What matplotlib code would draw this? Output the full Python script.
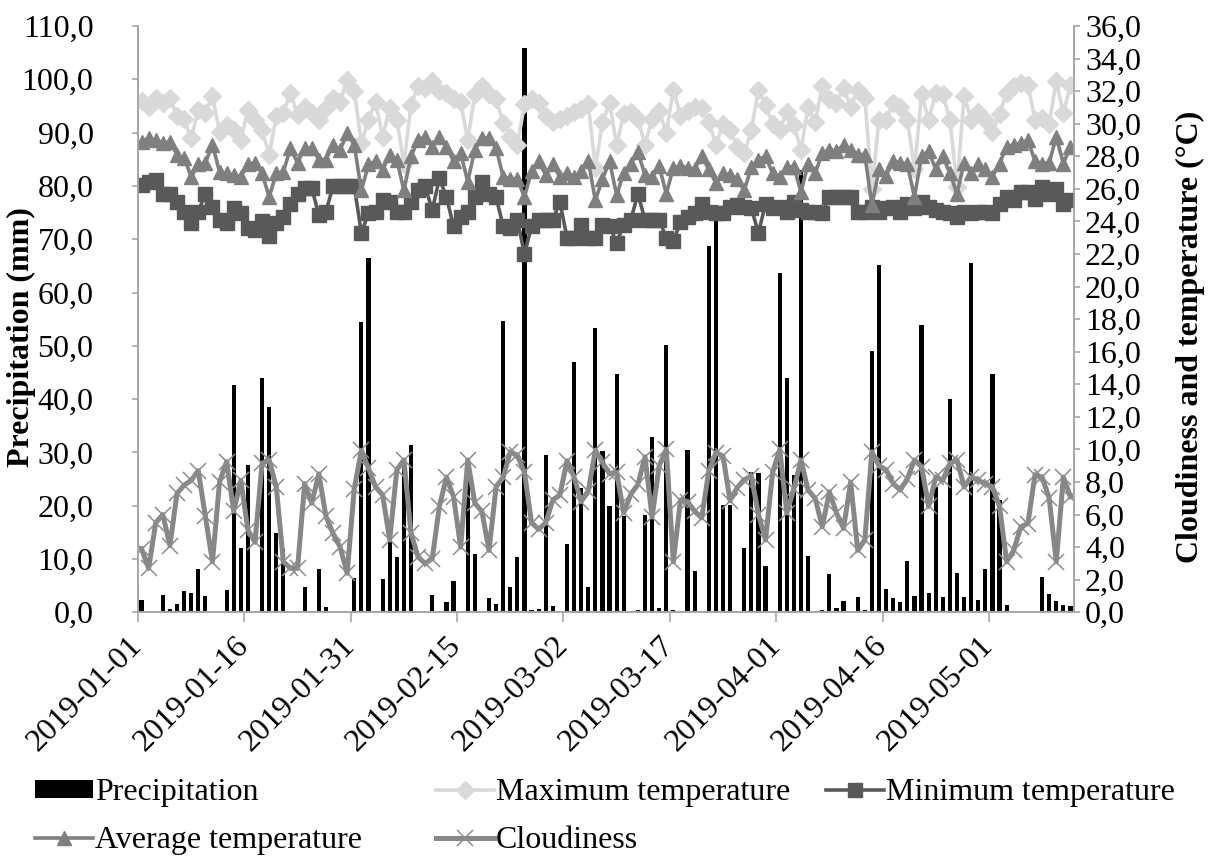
import matplotlib
matplotlib.use("Agg")
import matplotlib.pyplot as plt
import numpy as np

plt.rcParams['font.family'] = ['Liberation Serif', 'DejaVu Serif']

# ---------------- data (day index 0 = 2019-01-01, 132 days) ----------------
n_days = 132
precip_days = [0, 3, 4, 5, 6, 7, 8, 9, 12, 13, 14, 15, 17, 18, 19, 20, 23, 25, 26,
               30, 31, 32, 34, 35, 36, 37, 38, 41, 43, 44, 46, 47, 49, 50, 51, 52, 53,
               54, 55, 56, 57, 58, 60, 61, 62, 63, 64, 65, 66, 67, 68, 70, 71, 72, 73,
               74, 75, 77, 78, 80, 81, 82, 83, 85, 86, 87, 88, 90, 91, 92, 93, 94, 96,
               97, 98, 99, 101, 102, 103, 104, 105, 106, 107, 108, 109, 110, 111, 112,
               113, 114, 115, 116, 117, 118, 119, 120, 121, 122, 127, 128, 129, 130, 131]
precip_vals = [2.3, 3.2, 0.6, 1.5, 4.0, 3.7, 8.2, 3.1, 4.1, 42.6, 12.0, 27.6, 44.0, 38.6,
               14.9, 11.9, 4.8, 8.1, 1.0,
               6.5, 54.5, 66.5, 6.2, 13.6, 10.4, 27.5, 31.3, 3.3, 2.0, 5.9, 28.0, 10.9,
               2.6, 1.6, 54.7, 4.8, 10.4,
               105.8, 0.35, 0.6, 29.5, 1.2, 12.8, 46.9, 23.3, 4.8, 53.3, 30.3, 19.9, 44.7,
               18.1, 0.5, 18.3, 32.8, 0.8,
               50.2, 0.5, 30.5, 7.8, 68.8, 76.5, 20.1, 20.1, 12.1, 26.4, 26.2, 8.6, 63.7,
               43.9, 25.8, 83.0, 10.6, 0.4,
               7.1, 0.9, 2.1, 2.9, 0.4, 49.1, 65.2, 4.4, 2.6, 2.0, 9.7, 3.1, 53.9, 3.7,
               23.6, 2.8, 40.1, 7.3, 2.8, 65.6, 2.4, 8.1, 44.7, 21.1, 1.4, 6.7, 3.4, 2.2,
               1.3, 1.2]

max_temp = [31.4, 31.05, 31.6, 31.3, 31.6, 30.45, 30.3, 29.1, 30.85, 30.65,
            31.7, 29.5, 29.9, 29.6, 29.0, 30.85, 30.25, 29.6, 28.1, 30.45,
            30.65, 31.9, 30.55, 31.05, 30.65, 30.25, 30.95, 31.6, 31.35, 32.7,
            32.0, 28.8, 30.25, 31.35, 29.2, 30.95, 30.25, 27.5, 31.15, 32.3,
            32.2, 32.6, 32.0, 31.9, 31.5, 31.35, 29.0, 31.8, 32.3, 31.8,
            31.5, 30.05, 29.2, 28.7, 31.2, 31.5, 31.3, 30.5, 30.1, 30.3,
            30.5, 30.7, 30.9, 31.2, 27.3, 30.1, 31.3, 28.7, 30.6, 30.7,
            30.3, 28.7, 30.3, 30.8, 29.4, 32.1, 30.5, 30.8, 31.05, 30.95,
            30.1, 28.7, 30.0, 29.6, 28.6, 28.2, 29.6, 32.1, 31.15, 30.0,
            29.6, 30.75, 29.9, 28.4, 31.05, 30.1, 32.3, 31.5, 31.3, 32.2,
            31.05, 32.1, 31.6, 26.0, 30.25, 30.25, 31.25, 31.0, 30.25, 27.2,
            31.8, 30.25, 31.9, 31.8, 30.25, 26.1, 31.7, 30.25, 30.75, 30.25,
            29.5, 30.6, 31.9, 32.3, 32.5, 32.4, 30.25, 30.35, 30.0, 32.6,
            30.65, 32.4]

min_temp = [26.25, 26.4, 26.55, 25.7, 25.7, 25.2, 24.6, 23.9, 24.6, 25.7,
            24.9, 24.1, 23.9, 24.8, 24.5, 23.6, 23.5, 24.0, 23.1, 23.9,
            24.3, 25.1, 25.7, 26.05, 26.05, 24.4, 24.6, 26.15, 26.15, 26.15,
            26.15, 23.3, 24.5, 24.6, 25.3, 25.2, 24.6, 24.6, 25.2, 25.9,
            26.15, 24.7, 26.65, 25.5, 23.7, 24.3, 24.6, 25.5, 26.45, 25.7,
            25.5, 23.7, 23.6, 24.1, 22.0, 23.7, 24.1, 24.1, 24.1, 25.2,
            23.0, 23.0, 23.8, 23.0, 23.0, 23.8, 23.7, 22.7, 23.8, 24.1,
            25.7, 24.1, 24.1, 24.1, 23.0, 22.8, 23.95, 24.3, 24.5, 25.1,
            24.6, 24.5, 24.5, 24.9, 25.0, 24.9, 24.8, 23.3, 25.1, 24.8,
            24.9, 24.6, 25.2, 24.7, 24.6, 24.6, 24.5, 25.5, 25.5, 25.5,
            25.5, 24.6, 24.6, 24.9, 24.6, 24.8, 24.9, 24.6, 25.1, 24.8,
            25.2, 24.9, 24.7, 24.6, 24.5, 24.3, 24.6, 24.5, 24.6, 24.6,
            24.5, 25.1, 25.5, 25.3, 25.8, 25.8, 25.4, 26.1, 25.7, 26.0,
            25.1, 25.3]

avg_temp = [28.9, 29.1, 29.0, 28.8, 28.9, 28.1, 27.9, 26.75, 27.5, 27.6,
            28.7, 27.05, 26.95, 26.85, 26.75, 27.5, 27.6, 26.95, 25.5, 26.95,
            27.05, 28.5, 27.6, 28.5, 28.5, 27.8, 27.8, 28.7, 28.4, 29.4,
            28.7, 25.9, 27.5, 27.7, 27.15, 28.1, 27.8, 25.9, 28.0, 29.0,
            29.2, 28.6, 29.2, 28.6, 27.7, 28.2, 26.45, 28.4, 29.1, 29.1,
            28.5, 26.75, 26.6, 26.6, 25.5, 27.1, 27.7, 26.85, 27.55, 26.7,
            27.0, 26.7, 27.1, 27.7, 25.3, 26.6, 27.7, 25.6, 27.0, 27.55,
            28.25, 26.85, 26.7, 27.4, 25.7, 27.3, 27.4, 27.3, 27.2, 28.0,
            27.2, 26.35, 26.95, 26.85, 26.6, 25.9, 27.35, 27.8, 28.0, 26.95,
            26.75, 27.35, 27.35, 25.8, 27.55, 26.95, 28.2, 28.4, 28.3, 28.7,
            28.4, 28.1, 28.1, 25.0, 27.2, 26.8, 27.7, 27.6, 27.5, 25.5,
            28.0, 28.3, 27.2, 28.0, 26.95, 25.7, 27.6, 26.95, 27.5, 27.2,
            26.75, 27.55, 28.6, 28.7, 28.8, 29.0, 27.7, 27.55, 27.6, 29.2,
            27.55, 28.6]

cloudiness = [3.9, 2.7, 5.5, 6.0, 4.1, 7.3, 7.8, 8.1, 8.7, 5.9,
              3.1, 8.0, 9.25, 6.2, 8.1, 5.05, 4.3, 9.15, 9.35, 7.7,
              3.1, 2.7, 2.7, 7.9, 6.7, 8.5, 5.9, 4.85, 4.0, 2.4,
              7.6, 9.95, 8.85, 7.7, 7.2, 4.45, 8.75, 9.35, 4.85, 3.4,
              3.0, 3.3, 6.5, 8.3, 7.1, 4.0, 9.35, 6.7, 6.2, 3.8,
              7.7, 8.3, 9.85, 9.65, 8.6, 5.5, 5.1, 5.5, 6.9, 7.2,
              9.3, 8.3, 6.8, 7.45, 9.95, 9.2, 8.5, 8.6, 6.1, 7.25,
              7.85, 9.55, 5.85, 9.0, 10.0, 3.1, 6.9, 6.8, 6.2, 5.8,
              8.7, 9.8, 9.6, 6.85, 7.65, 8.15, 8.35, 6.0, 4.45, 8.6,
              10.0, 6.1, 7.6, 9.35, 7.5, 7.0, 5.25, 7.4, 6.1, 5.15,
              8.0, 3.8, 4.45, 9.85, 9.0, 8.75, 7.9, 7.5, 8.2, 9.35,
              8.95, 6.5, 8.3, 8.1, 9.15, 9.35, 7.7, 8.3, 8.1, 7.9,
              7.7, 6.5, 3.1, 3.8, 5.25, 5.45, 8.45, 8.3, 7.0, 3.1,
              8.3, 7.1]

x_tick_labels = ['2019-01-01', '2019-01-16', '2019-01-31', '2019-02-15', '2019-03-02',
                 '2019-03-17', '2019-04-01', '2019-04-16', '2019-05-01']
left_ticks = np.arange(0, 110.1, 10)
right_ticks = np.arange(0, 36.1, 2)

# ---------------- figure ----------------
precip = np.zeros(n_days)
precip[precip_days] = precip_vals
x = np.arange(n_days)

W, H = 1211, 868
fig = plt.figure(figsize=(W / 100, H / 100), dpi=100)
ax = fig.add_axes([138 / W, 1 - 612.3 / H, (1074 - 138) / W, (612.3 - 26) / H])
ax2 = ax.twinx()

FS = 23
axis_col = '#a6a6a6'

bars = ax.bar(x, precip, width=0.6, color='black', zorder=2, label='Precipitation')
ax.set_ylim(0, 110)
ax.set_xlim(-0.5, n_days - 0.5)

l_max, = ax2.plot(x, max_temp, color='#d9d9d9', lw=2.6, marker='D', ms=9,
                  mec='#d9d9d9', mfc='#d9d9d9', label='Maximum temperature')
l_min, = ax2.plot(x, min_temp, color='#595959', lw=2.6, marker='s', ms=10.5,
                  mec='#595959', mfc='#595959', label='Minimum temperature')
l_avg, = ax2.plot(x, avg_temp, color='#7f7f7f', lw=2.6, marker='^', ms=10.5,
                  mec='#7f7f7f', mfc='#7f7f7f', label='Average temperature')
l_cld, = ax2.plot(x, cloudiness, color='#878787', lw=3.6, marker='x', ms=11,
                  mew=1.1, mec='#8c8c8c', label='Cloudiness')
ax2.set_ylim(0, 36)

fmt = lambda v: f"{v:.1f}".replace('.', ',')
ax.set_yticks(left_ticks)
ax.set_yticklabels([fmt(v) for v in left_ticks], fontsize=FS)
ax2.set_yticks(right_ticks)
ax2.set_yticklabels([fmt(v) for v in right_ticks], fontsize=FS)

xt = [-0.5 + 15 * k for k in range(len(x_tick_labels))]
ax.set_xticks(xt)
ax.set_xticklabels(x_tick_labels, rotation=45, ha='right', va='center',
                   rotation_mode='anchor', fontsize=FS)

for a in (ax, ax2):
    a.spines['top'].set_visible(False)
    for s in ('left', 'right', 'bottom'):
        a.spines[s].set_color(axis_col)
        a.spines[s].set_linewidth(1.2)
ax.tick_params(axis='x', direction='out', color=axis_col, length=7, width=1.2, pad=14)
ax.tick_params(axis='y', direction='out', color=axis_col, length=4, width=1.2, pad=28)
ax2.tick_params(axis='y', direction='out', color=axis_col, length=4, width=1.2, pad=4)

ax.set_ylabel('Precipitation (mm)', fontsize=FS, fontweight='bold')
ax2.set_ylabel('Cloudiness and temperature (°C)', fontsize=FS, fontweight='bold')
ax.yaxis.set_label_coords((36 - 138) / 936, 0.47)
ax2.yaxis.set_label_coords((1176 - 138) / 936, 0.47)

leg_kw = dict(loc='upper left', frameon=False, fontsize=FS, handlelength=1.8,
              handleheight=0.5, handletextpad=0.08, labelspacing=0.6,
              borderaxespad=0, borderpad=0)
top_y = 1 - 778 / H
fig.legend([bars, l_avg], ['Precipitation', 'Average temperature'],
           bbox_to_anchor=(35 / W, top_y), **leg_kw)
fig.legend([l_max, l_cld], ['Maximum temperature', 'Cloudiness'],
           bbox_to_anchor=(436 / W, top_y), **leg_kw)
fig.legend([l_min], ['Minimum temperature'],
           bbox_to_anchor=(826 / W, top_y), **leg_kw)

fig.savefig('out.png', dpi=100)
